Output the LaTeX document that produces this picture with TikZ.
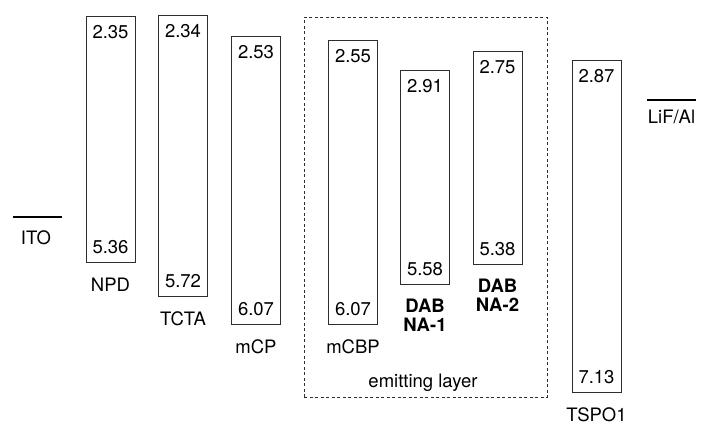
\documentclass[tikz,border=0pt]{standalone}
\usepackage{fontspec}
\setmainfont{TeX Gyre Heros}
\usepackage{tikz}
\usetikzlibrary{positioning,calc}
\definecolor{edgegrey}{HTML}{2E2E2E}

\begin{document}
\begin{tikzpicture}[x=1pt, y=-1pt,
    every node/.style={font=\fontsize{18.5}{19}\selectfont, inner sep=0pt, align=center},
    layer/.style={draw=edgegrey, line width=0.9pt, minimum width=49pt, anchor=north},   % niveau
    val/.style={text=black},
    mat/.style={text=black},
    dopant/.style={font=\fontsize{18.5}{19}\selectfont\bfseries},
    electrode/.style={line width=2.8pt, color=black},
    eml/.style={draw=edgegrey, line width=0.9pt, dash pattern=on 3pt off 2.5pt, anchor=north west}
  ]
  \useasboundingbox (0,0) rectangle (708,433);

  % ============ electrodes =============================================
  \coordinate (ito-l) at (13,217);  \coordinate (ito-r) at (62,217);
  \draw[electrode] (ito-l) -- (ito-r);
  \node[mat, below=13pt of {$(ito-l)!0.47!(ito-r)$}] (ito) {ITO};

  \coordinate (lif-l) at (647,100); \coordinate (lif-r) at (696,100);
  \draw[electrode] (lif-l) -- (lif-r);
  \node[mat, below=10pt of {$(lif-l)!0.5!(lif-r)$}] (lif) {LiF/Al};

  % ============ couches de transport ===================================
  \node[layer, minimum height=246pt] (npd) at (110.5,16) {};
  \node[val, below=9pt of npd.north] (npd-l) {2.35};
  \node[val, above=9pt of npd.south] (npd-h) {5.36};
  \node[mat, below=15pt of npd.south] (npd-n) {NPD};

  \node[layer, minimum height=281pt] (tcta) at (183,15) {};
  \node[val, below=9pt of tcta.north] (tcta-l) {2.34};
  \node[val, above=9pt of tcta.south] (tcta-h) {5.72};
  \node[mat, below=15pt of tcta.south] (tcta-n) {TCTA};

  \node[layer, minimum height=288pt] (mcp) at (256,36) {};
  \node[val, below=9pt of mcp.north] (mcp-l) {2.53};
  \node[val, above=9pt of mcp.south] (mcp-h) {6.07};
  \node[mat, below=15pt of mcp.south] (mcp-n) {mCP};

  % ============ couche emissive ========================================
  \node[eml, minimum width=243pt, minimum height=380pt] (emlbox) at (304,17) {};
  \node[mat, anchor=base] (eml-n) at (423,387) {emitting layer};

  \node[layer, minimum height=284pt] (mcbp) at (353,40) {};
  \node[val, below=9pt of mcbp.north] (mcbp-l) {2.55};
  \node[val, above=9pt of mcbp.south] (mcbp-h) {6.07};
  \node[mat, below=15pt of mcbp.south] (mcbp-n) {mCBP};

  \node[layer, minimum height=214pt] (dabna1) at (425,70) {};
  \node[val, below=9pt of dabna1.north] (dabna1-l) {2.91};
  \node[val, above=9pt of dabna1.south] (dabna1-h) {5.58};
  \node[dopant, below=14pt of dabna1.south] (dabna1-n) {DAB\\NA-1};

  \node[layer, minimum height=213pt] (dabna2) at (497.5,51) {};
  \node[val, below=9pt of dabna2.north] (dabna2-l) {2.75};
  \node[val, above=9pt of dabna2.south] (dabna2-h) {5.38};
  \node[dopant, below=14pt of dabna2.south] (dabna2-n) {DAB\\NA-2};

  % ============ transport d'electrons ==================================
  \node[layer, minimum height=332pt] (tspo1) at (596.5,60) {};
  \node[val, below=9pt of tspo1.north] (tspo1-l) {2.87};
  \node[val, above=9pt of tspo1.south] (tspo1-h) {7.13};
  \node[mat, below=15pt of tspo1.south] (tspo1-n) {TSPO1};

\end{tikzpicture}
\end{document}
